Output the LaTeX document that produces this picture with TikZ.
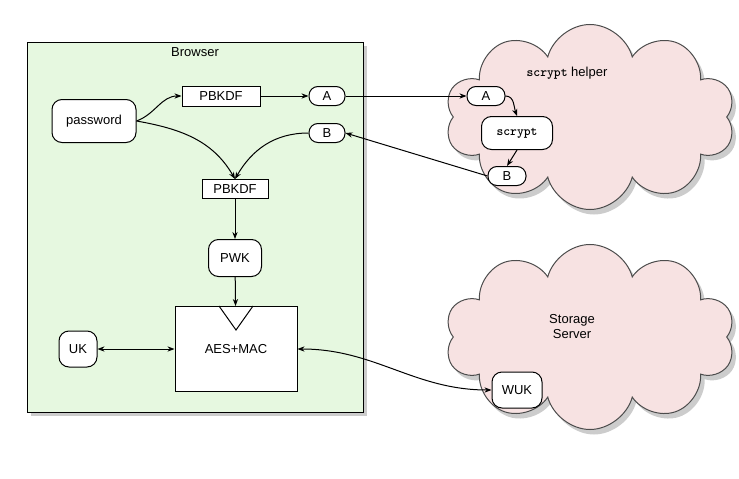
\documentclass[tikz,border=0pt]{standalone}
\usepackage{fontspec}
\setmainfont{Liberation Sans}
\usetikzlibrary{positioning, shapes.symbols, arrows.meta}
\definecolor{boxgreen}{HTML}{E6F8E0}
\definecolor{cloudpink}{HTML}{F7E2E2}
\begin{document}
\begin{tikzpicture}[x=1pt, y=-1pt, font=\fontsize{13}{15}\selectfont, line width=1pt,
    rbox/.style={draw, rounded corners=8pt, fill=white, minimum width=#1, minimum height=20pt, inner sep=2pt},
    rbox/.default=22pt,
    kdf/.style={draw, fill=white, minimum width=66pt, minimum height=19pt, inner sep=1pt},
    cloudy/.style={draw=black!70, fill=cloudpink, cloud, cloud puffs=10, aspect=1.9, minimum width=290pt, minimum height=185pt},
    >={Stealth[length=7pt]}]
  \useasboundingbox (0,0) rectangle (739,479);
  % browser
  \fill[black!20] (31,46) rectangle (367,416);
  \draw[fill=boxgreen] (27,42) rectangle (363,412);
  \node (browser) at (195,52) {Browser};
  \node[rbox=84pt, minimum height=43pt, rounded corners=10pt] (pw) at (94,121) {password};
  \node[draw, fill=white, minimum width=78pt, minimum height=20pt, inner sep=1pt] (kdf1) at (221,96) {PBKDF};
  \node[rbox=36pt, minimum height=19pt, rounded corners=9pt] (a1) at (327,96) {A};
  \node[rbox=36pt, minimum height=19pt, rounded corners=9pt] (b1) at (327,133) {B};
  \node[kdf] (kdf2) at (235,189) {PBKDF};
  \node[rbox=53pt, minimum height=37pt, rounded corners=10pt] (pwk) at (235,258) {PWK};
  \node[draw, fill=white, minimum width=122pt, minimum height=85pt] (aes) at (236,349) {AES+MAC};
  \draw (219,306) -- (236,330) -- (253,306);
  \node[rbox=38pt, minimum height=36pt, rounded corners=10pt] (uk) at (78,349) {UK};
  % clouds
  \node[cloudy, draw=none, fill=black!20] at (594,122) {};
  \node[cloudy] (helper) at (590,117) {};
  \node[cloudy, draw=none, fill=black!20] at (594,342) {};
  \node[cloudy] (storage) at (590,337) {};
  \node (helpername) at (567,73) {\texttt{\bfseries scrypt} helper};
  \node[align=center] (storagename) at (572,327) {Storage\\Server};
  \node[rbox=38pt, minimum height=19pt, rounded corners=9pt] (a2) at (486,96) {A};
  \node[rbox=71pt, minimum height=33pt, rounded corners=10pt] (scr) at (517,133) {\texttt{\bfseries scrypt}};
  \node[rbox=38pt, minimum height=19pt, rounded corners=9pt] (b2) at (507,176) {B};
  \node[rbox=50pt, minimum height=36pt, rounded corners=10pt] (wuk) at (517,390) {WUK};
  % arrows
  \draw[->] (pw.east) to[out=20, in=180] (kdf1.west);
  \draw[->] (kdf1) -- (a1);
  \draw[->] (pw.east) to[out=-10, in=120] (kdf2.north);
  \draw[->] (b1.west) to[out=180, in=60] (kdf2.north);
  \draw[->] (a1) -- (a2);
  \draw[->] (a2.east) to[out=0, in=110] (scr.north);
  \draw[->] (scr.south) -- (b2.north);
  \draw[->] (b2.west) -- (b1.east);
  \draw[->] (kdf2) -- (pwk);
  \draw[->] (pwk) -- (aes);
  \draw[<->] (uk) -- (aes);
  \draw[<->] (aes.east |- 0,349) to[out=0, in=180] (wuk.west);
\end{tikzpicture}
\end{document}
